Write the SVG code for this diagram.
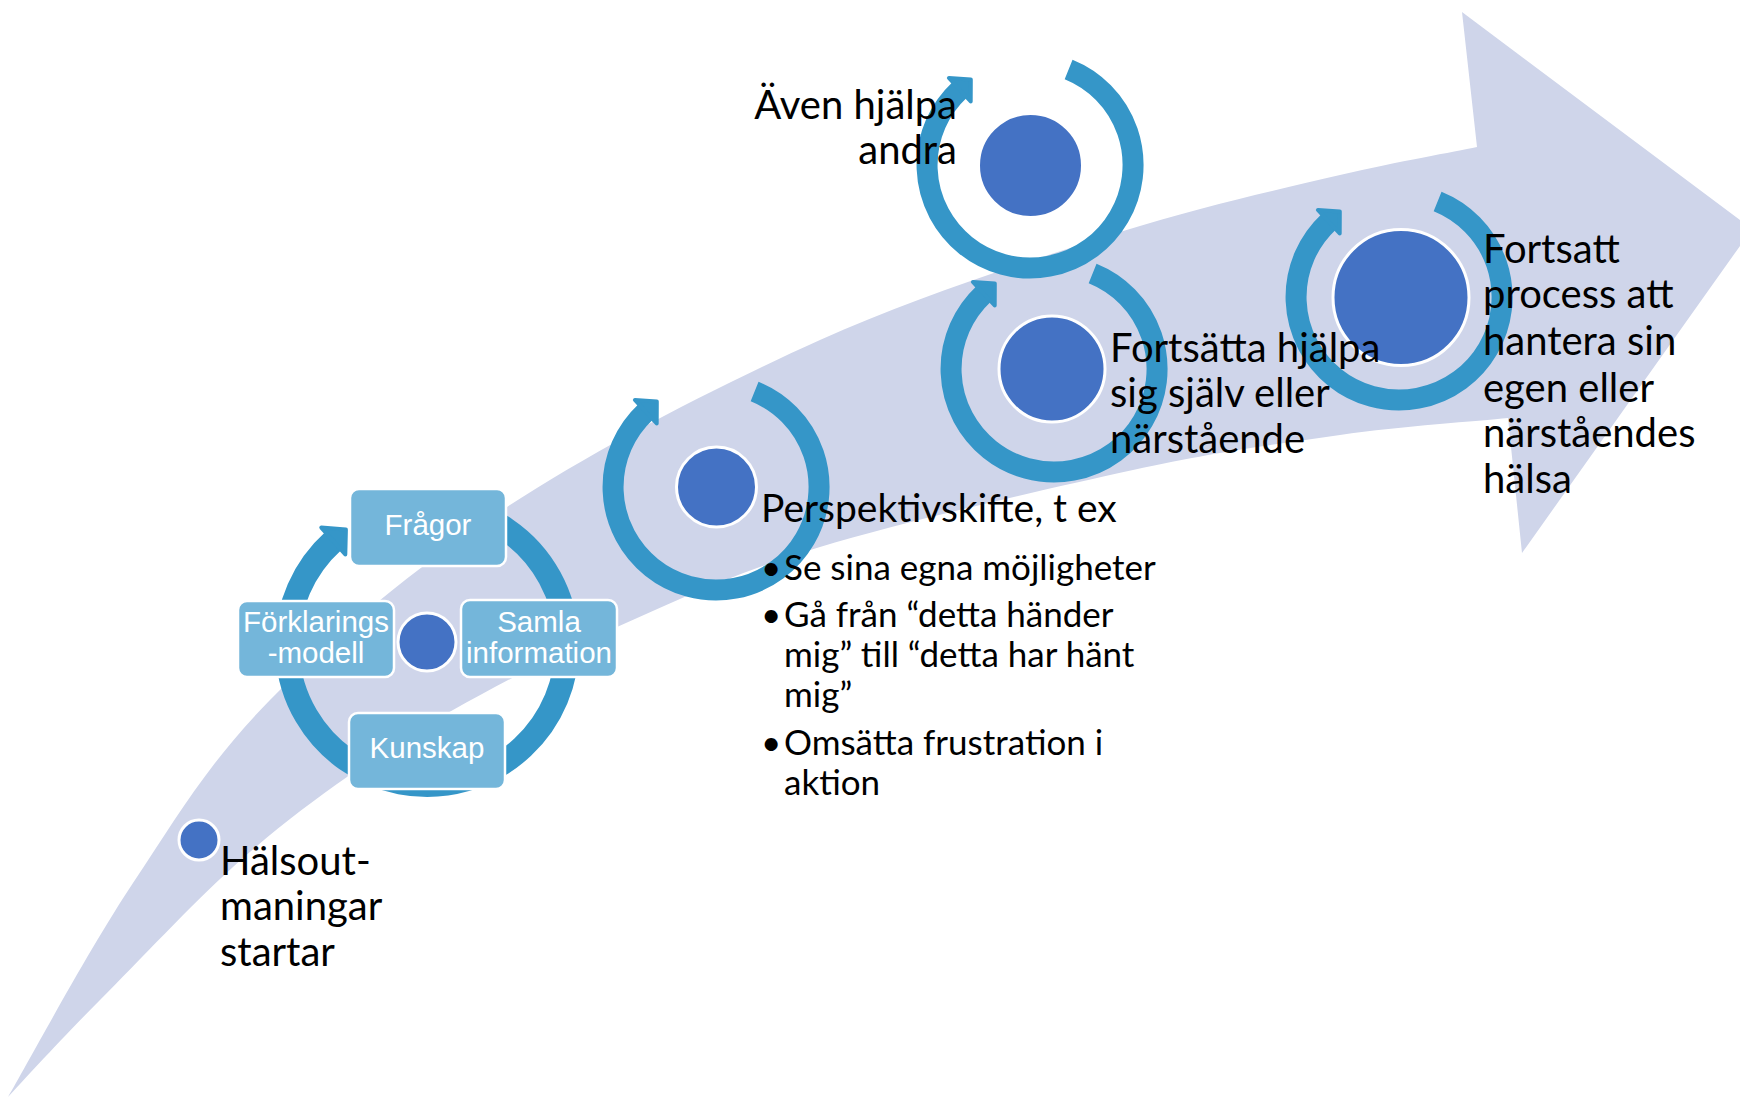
<svg xmlns="http://www.w3.org/2000/svg" width="1740" height="1098" viewBox="0 0 1740 1098">
<style>
.band{fill:#CFD5EA}
.ring{fill:none;stroke:#3596C8;stroke-width:21}
.head{fill:#3596C8;stroke:#3596C8;stroke-width:4;stroke-linejoin:round}
.dot{fill:#4472C4;stroke:#fff;stroke-width:3}
.box{fill:#74B6DA;stroke:#fff;stroke-width:2.5}
.bt{font-family:"Liberation Sans",Arial,sans-serif;font-size:29.5px;fill:#fff;text-anchor:middle}
.t{font-family:Lato,"Open Sans",sans-serif;font-size:40px;fill:#000}
.b{font-size:35px}
</style>
<defs>
<g id="cycle">
<path class="ring" d="M38.6,-95.5 A103,103 0 1 1 -70.2,-75.3"/>
<path class="head" d="M-81.1,-87 L-59.2,-85.5 L-59.3,-63.6 Z"/>
</g>
</defs>
<path id="band" class="band" d="M8,1097 C29,1061 89,949 133,883 C177,817 208,763 270,700 C332,637 415,567 507,507 C599,447 718,386 820,340 C922,294 1033,260 1120,232 C1207,205 1281,189 1340,175 C1400,161 1454,152 1477,147 L1462,12 L1752,229 L1522,553 L1508,418 C1480,421 1402,426 1340,435 C1278,444 1220,451 1133,470 C1046,489 906,521 820,547 C734,573 678,600 617,627 C556,654 498,685 453,710 C408,735 384,751 347,777 C310,803 274,830 233,867 C192,904 138,962 100,1000 C62,1038 23,1081 8,1097 Z"/>
<g id="connectors">
<g id="cycle-small">
<path class="ring" style="stroke-width:24" d="M451.3,507.1 A140,140 0 1 1 333.3,541"/>
<path class="head" d="M321.3,527.6 L345.9,529.6 L345.3,554.4 Z"/>
</g>
<use href="#cycle" transform="translate(716,487)"/>
<use href="#cycle" transform="translate(1030,165)"/>
<use href="#cycle" transform="translate(1054,369)"/>
<use href="#cycle" transform="translate(1399,297)"/>
</g>
<g id="n-halsout">
<circle class="dot" cx="199" cy="840" r="20"/>
<text class="t" x="220" y="875">Hälsout-</text>
<text class="t" x="220" y="920">maningar</text>
<text class="t" x="220" y="966">startar</text>
</g>
<g id="n-center">
<circle class="dot" cx="427" cy="642" r="29"/>
</g>
<g id="n-fragor">
<rect class="box" x="350" y="489" width="156" height="77" rx="9"/>
<text class="bt" x="428" y="535">Frågor</text>
</g>
<g id="n-forklarings">
<rect class="box" x="238" y="601" width="156" height="76" rx="9"/>
<text class="bt" x="316" y="632">Förklarings</text>
<text class="bt" x="316" y="663">-modell</text>
</g>
<g id="n-samla">
<rect class="box" x="461" y="600" width="156" height="77" rx="9"/>
<text class="bt" x="539" y="632">Samla</text>
<text class="bt" x="539" y="663">information</text>
</g>
<g id="n-kunskap">
<rect class="box" x="349" y="713" width="156" height="76" rx="9"/>
<text class="bt" x="427" y="758">Kunskap</text>
</g>
<g id="n-perspektiv">
<circle class="dot" cx="716.5" cy="487" r="40"/>
<text class="t" x="761" y="522" style="font-size:39px">Perspektivskifte, t ex</text>
<text class="t b" x="761" y="580">•</text>
<text class="t b" x="784" y="580">Se sina egna möjligheter</text>
<text class="t b" x="761" y="627">•</text>
<text class="t b" x="784" y="627">Gå från “detta händer</text>
<text class="t b" x="784" y="667">mig” till “detta har hänt</text>
<text class="t b" x="784" y="707">mig”</text>
<text class="t b" x="761" y="755">•</text>
<text class="t b" x="784" y="755">Omsätta frustration i</text>
<text class="t b" x="784" y="795">aktion</text>
</g>
<g id="n-aven">
<circle class="dot" cx="1030.5" cy="165.5" r="52"/>
<text class="t" x="957" y="119" text-anchor="end">Även hjälpa</text>
<text class="t" x="957" y="164" text-anchor="end">andra</text>
</g>
<g id="n-fortsatt">
<circle class="dot" cx="1401" cy="297.5" r="68"/>
<text class="t" x="1483" y="263">Fortsatt</text>
<text class="t" x="1483" y="308">process att</text>
<text class="t" x="1483" y="355">hantera sin</text>
<text class="t" x="1483" y="402">egen eller</text>
<text class="t" x="1483" y="447">närståendes</text>
<text class="t" x="1483" y="493">hälsa</text>
</g>
<g id="n-fortsatta">
<circle class="dot" cx="1052" cy="369" r="53"/>
<text class="t" x="1110" y="362">Fortsätta hjälpa</text>
<text class="t" x="1110" y="407">sig själv eller</text>
<text class="t" x="1110" y="453">närstående</text>
</g>
</svg>
